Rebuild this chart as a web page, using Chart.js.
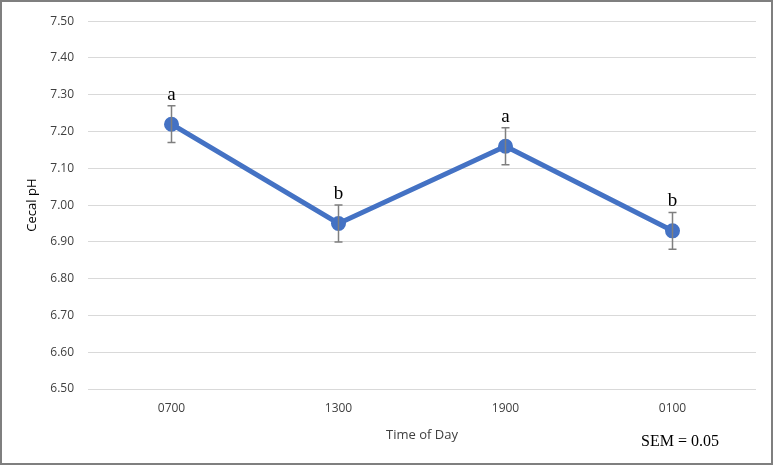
<!DOCTYPE html>
<html>
<head>
<meta charset="utf-8">
<script src="https://cdn.jsdelivr.net/npm/chart.js@4/dist/chart.umd.min.js"></script>
<style>
  html, body { margin: 0; padding: 0; background: #fff; }
  #wrap { width: 773px; height: 465px; position: relative; }
</style>
</head>
<body>
<div id="wrap"><canvas id="phChart"></canvas></div>
<script>
// data
const categories = ['0700', '1300', '1900', '0100'];
const cecalPH = [7.22, 6.95, 7.16, 6.93];
const errSEM = [0.05, 0.05, 0.05, 0.05];
const letters = ['a', 'b', 'a', 'b'];
const yTicks = [6.5, 6.6, 6.7, 6.8, 6.9, 7.0, 7.1, 7.2, 7.3, 7.4, 7.5];

const lineBlue = '#4472C4';
const tickFont = { family: 'Open Sans', size: 12 };

// error bars, significance letters, SEM note and outer frame
const extrasPlugin = {
    id: 'extras',
    afterDatasetsDraw(chart) {
        const ctx = chart.ctx;
        const x = chart.scales.x;
        const y = chart.scales.y;
        ctx.save();
        ctx.strokeStyle = '#7f7f7f';
        ctx.lineWidth = 1.5;
        cecalPH.forEach((v, i) => {
            const px = x.getPixelForValue(i);
            const top = y.getPixelForValue(v + errSEM[i]);
            const bot = y.getPixelForValue(v - errSEM[i]);
            ctx.beginPath();
            ctx.moveTo(px, top); ctx.lineTo(px, bot);
            ctx.moveTo(px - 4, top); ctx.lineTo(px + 4, top);
            ctx.moveTo(px - 4, bot); ctx.lineTo(px + 4, bot);
            ctx.stroke();
        });
        ctx.restore();
    },
    afterDraw(chart) {
        const ctx = chart.ctx;
        const x = chart.scales.x;
        const y = chart.scales.y;
        ctx.save();
        ctx.fillStyle = '#000';
        ctx.font = '19px "Liberation Serif"';
        ctx.textAlign = 'center';
        ctx.textBaseline = 'alphabetic';
        letters.forEach((l, i) => {
            const px = x.getPixelForValue(i);
            const top = y.getPixelForValue(cecalPH[i] + errSEM[i]);
            ctx.fillText(l, px, top - 6);
        });
        ctx.font = '16px "Liberation Serif"';
        ctx.textAlign = 'left';
        ctx.fillText('SEM = 0.05', 641, 446);
        ctx.strokeStyle = '#7f7f7f';
        ctx.lineWidth = 2;
        ctx.strokeRect(1, 1, chart.width - 2, chart.height - 2);
        ctx.restore();
    }
};

new Chart(document.getElementById('phChart'), {
    type: 'line',
    data: {
        labels: categories,
        datasets: [{
            label: 'Cecal pH',
            data: cecalPH,
            borderColor: lineBlue,
            backgroundColor: lineBlue,
            borderWidth: 5,
            pointRadius: 5,
            pointBackgroundColor: lineBlue,
            pointBorderColor: lineBlue,
            tension: 0
        }]
    },
    options: {
        responsive: true,
        maintainAspectRatio: false,
        animation: false,
        layout: { padding: { left: 20, right: 17, top: 11, bottom: 18 } },
        plugins: {
            legend: { display: false },
            tooltip: { enabled: false }
        },
        scales: {
            x: {
                offset: true,
                grid: { display: false, drawTicks: false },
                border: { display: false },
                ticks: { color: '#404040', font: tickFont, padding: 12 },
                title: { display: true, text: 'Time of Day', color: '#404040', font: { family: 'Open Sans', size: 13 }, padding: { top: 6 } },
                afterFit(scale) { scale.height = 58; }
            },
            y: {
                min: 6.5,
                max: 7.5,
                afterBuildTicks(scale) { scale.ticks = yTicks.map(v => ({ value: v })); },
                grid: { color: '#d9d9d9', lineWidth: 1, drawTicks: false },
                border: { display: false },
                ticks: {
                    color: '#404040',
                    font: tickFont,
                    padding: 14,
                    callback: v => Number(v).toFixed(2)
                },
                title: { display: true, text: 'Cecal pH', color: '#000', font: { family: 'Open Sans', size: 13 } },
                afterFit(scale) { scale.width = 68; }
            }
        }
    },
    plugins: [extrasPlugin]
});
</script>
</body>
</html>
